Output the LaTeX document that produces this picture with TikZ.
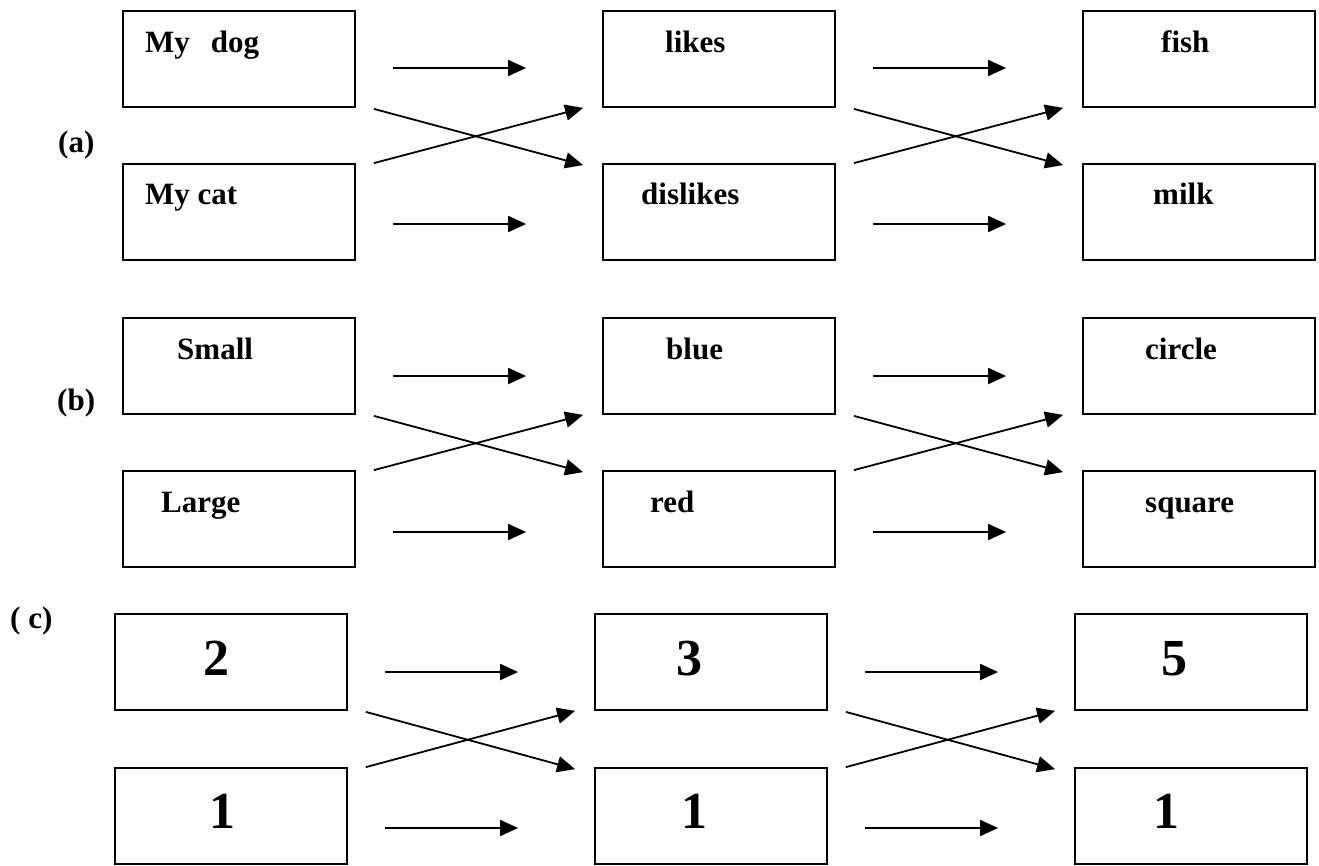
\documentclass[tikz,border=0pt]{standalone}
\usepackage{fontspec}
\setmainfont{Liberation Serif}
\usetikzlibrary{arrows.meta}
\begin{document}
\begin{tikzpicture}[x=1pt,y=-1pt]
\tikzset{
  box/.style={draw, line width=1.8pt, minimum width=232pt, minimum height=96pt, inner sep=0pt},
  word/.style={anchor=base west, inner sep=0pt, font=\bfseries\fontsize{31}{37}\selectfont},
  digit/.style={anchor=base, inner sep=0pt, font=\bfseries\fontsize{52}{60}\selectfont},
  tag/.style={anchor=base west, inner sep=0pt, font=\bfseries\fontsize{31}{37}\selectfont},
  link/.style={line width=1.8pt, -{Triangle[length=18pt,width=16pt]}},
}
\useasboundingbox (0,0) rectangle (1319,865);

% section labels
\node[tag] (la) at (58,152) {(a)};
\node[tag] (lb) at (57,410) {(b)};
\node[tag] (lc) at (10,628) {( c)};

% (a) boxes
\node[box] (dog)      at (239,59)  {};
\node[box] (cat)      at (239,212) {};
\node[box] (likes)    at (719,59)  {};
\node[box] (dislikes) at (719,212) {};
\node[box] (fish)     at (1199,59)  {};
\node[box] (milk)     at (1199,212) {};
\node[word] (t-dog)      at (145,52)  {My\hspace{21pt}dog};
\node[word] (t-cat)      at (145,204) {My cat};
\node[word] (t-likes)    at (665,52)  {likes};
\node[word] (t-dislikes) at (641,204) {dislikes};
\node[word] (t-fish)     at (1161,52)  {fish};
\node[word] (t-milk)     at (1153,204) {milk};

% (b) boxes
\node[box] (small)  at (239,366) {};
\node[box] (large)  at (239,519) {};
\node[box] (blue)   at (719,366) {};
\node[box] (red)    at (719,519) {};
\node[box] (circle) at (1199,366) {};
\node[box] (square) at (1199,519) {};
\node[word] (t-small)  at (177,359) {Small};
\node[word] (t-large)  at (161,512) {Large};
\node[word] (t-blue)   at (666,359) {blue};
\node[word] (t-red)    at (650,512) {red};
\node[word] (t-circle) at (1145,359) {circle};
\node[word] (t-square) at (1145,512) {square};

% (c) boxes
\node[box] (two)   at (231,662)  {};
\node[box] (one)   at (231,816)  {};
\node[box] (three) at (711,662)  {};
\node[box] (oneb)  at (711,816)  {};
\node[box] (five)  at (1191,662) {};
\node[box] (onec)  at (1191,816) {};
\node[digit] (t-two)   at (216.5,675) {2};
\node[digit] (t-one)   at (222,828)   {1};
\node[digit] (t-three) at (689,675)   {3};
\node[digit] (t-oneb)  at (694,828)   {1};
\node[digit] (t-five)  at (1174,675)  {5};
\node[digit] (t-onec)  at (1166,828)  {1};

% straight and crossing links between neighbouring columns
\foreach \ul/\ur/\ll/\lr/\du/\dl in {
    dog/likes/cat/dislikes/9/12,
    likes/fish/dislikes/milk/9/12,
    small/blue/large/red/10/13,
    blue/circle/red/square/10/13,
    two/three/one/oneb/10/12,
    three/five/oneb/onec/10/12} {
  \draw[link] ([shift={(37pt,-\du pt)}]\ul.east) -- ([shift={(-76pt,-\du pt)}]\ur.west);
  \draw[link] ([shift={(37pt,-\dl pt)}]\ll.east) -- ([shift={(-76pt,-\dl pt)}]\lr.west);
  \draw[link] ([shift={(18pt,-1pt)}]\ul.south east) -- ([shift={(-19pt,-2pt)}]\lr.north west);
  \draw[link] ([shift={(18pt,0pt)}]\ll.north east) -- ([shift={(-19pt,0pt)}]\ur.south west);
}
\end{tikzpicture}
\end{document}
